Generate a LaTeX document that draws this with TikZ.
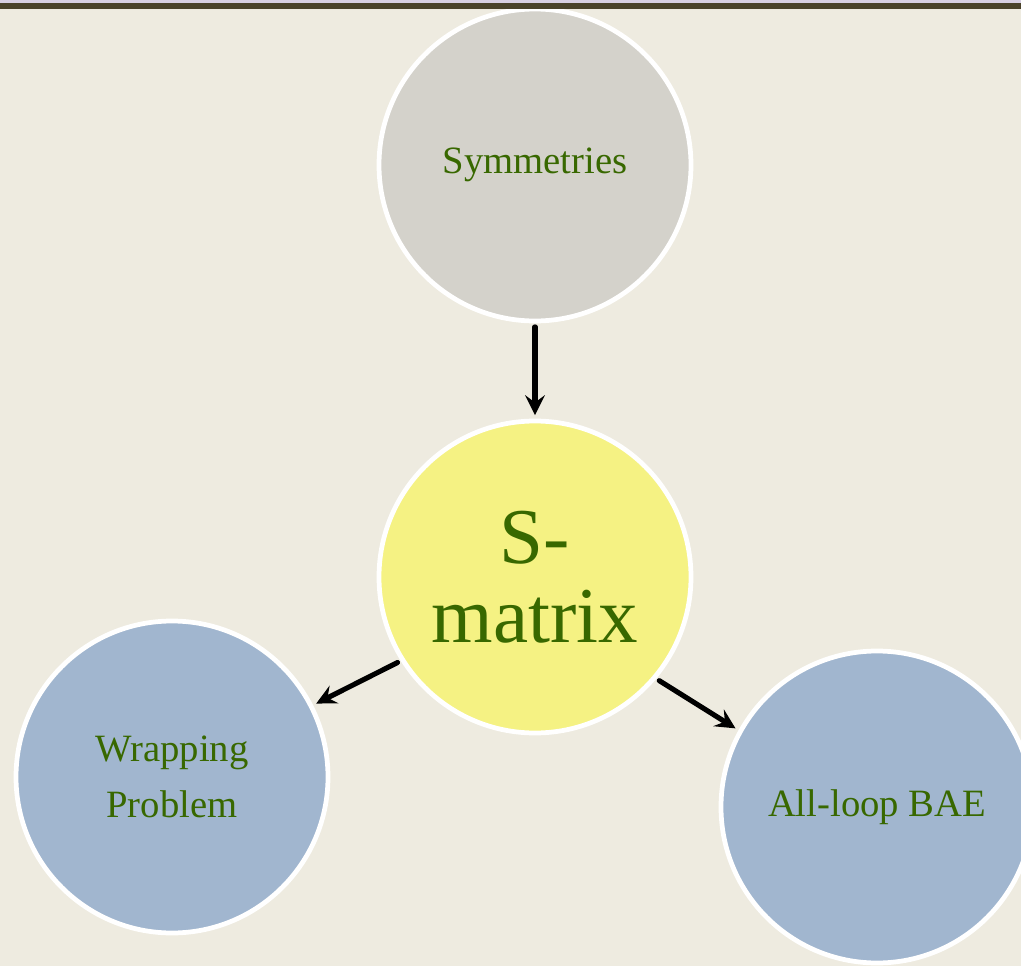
\documentclass[tikz,border=0pt]{standalone}
\usepackage{fontspec}
\setmainfont{Liberation Serif}
\definecolor{bgpaper}{RGB}{238,235,224}
\definecolor{topline}{RGB}{74,67,42}
\definecolor{topstrip}{RGB}{216,208,226}
\definecolor{txtgreen}{RGB}{56,104,0}
\definecolor{symgray}{RGB}{212,210,203}
\definecolor{smatyellow}{RGB}{245,242,131}
\definecolor{probblue}{RGB}{161,182,207}
\begin{document}
\begin{tikzpicture}[>=stealth,line join=round,line cap=round,
	bubble/.style={circle,draw=white,line width=1.35pt,minimum size=3.12cm,inner sep=0pt,
		align=center,text=txtgreen,font=\fontsize{11}{16}\selectfont},
	link/.style={->,line width=1.45pt,black,shorten <=1pt,shorten >=1pt}]
				\useasboundingbox (0,0) rectangle (10.21,9.66);
				\fill[bgpaper] (0,0) rectangle (10.21,9.66);
				\node[bubble,fill=symgray] (sym) at (5.35,8.01) {Symmetries};
				\node[bubble,fill=smatyellow,font=\fontsize{22.5}{22.5}\selectfont] (smat) at (5.35,3.89) {S-\\matrix};
				\node[bubble,fill=probblue] (wrap) at (1.72,1.89) {Wrapping\\Problem};
				\node[bubble,fill=probblue] (bae) at (8.77,1.59) {All-loop BAE};
				\fill[topstrip] (0,9.63) rectangle (10.21,9.66);
				\fill[topline] (0,9.57) rectangle (10.21,9.63);
				\draw[link] (sym) -- (smat);
				\draw[link] (smat.212) -- (wrap.27);
				\draw[link] (smat.-40) -- (bae.151);
			\end{tikzpicture}
\end{document}
